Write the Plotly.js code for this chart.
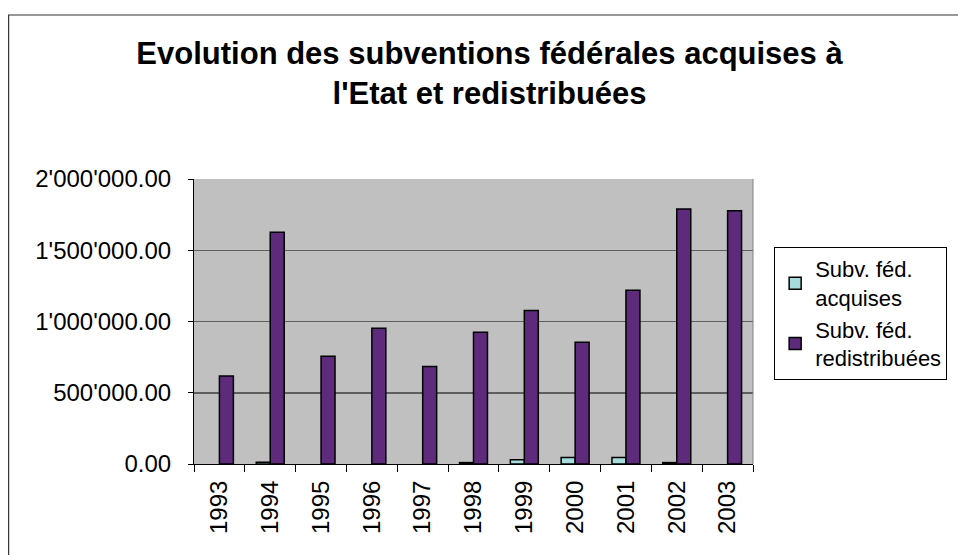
<!DOCTYPE html>
<html>
<head>
<meta charset="utf-8">
<script src="https://cdn.plot.ly/plotly-3.0.1.min.js"></script>
<style>html,body{margin:0;padding:0;background:#fff;}#chart{width:958px;height:555px;}</style>
</head>
<body>
<div id="chart"></div>
<script>
const years = ['1993','1994','1995','1996','1997','1998','1999','2000','2001','2002','2003'];
const acquises = [null, 12000, null, null, null, 10000, 30000, 45000, 45000, 10000, null];
const redistribuees = [617000, 1626000, 756000, 952000, 684000, 924000, 1078000, 855000, 1219000, 1789000, 1777000];
const seriesNames = ['Subv. féd.<br>acquises', 'Subv. féd.<br>redistribuées'];
const titleText = "Evolution des subventions fédérales acquises à<br>l'Etat et redistribuées";

const FONT = 'Arial, "Liberation Sans", sans-serif';

const traces = [
  {type:'bar', x:years, y:acquises, name:seriesNames[0],
   marker:{color:'#A6DCDC', line:{color:'#000', width:1.5}}},
  {type:'bar', x:years, y:redistribuees, name:seriesNames[1],
   marker:{color:'#5D2A7C', line:{color:'#000', width:1.5}}}
];

const layout = {
  width:958, height:555,
  margin:{l:194, r:204, t:179, b:91, pad:0},
  paper_bgcolor:'#fff', plot_bgcolor:'#C0C0C0',
  separators:".'",
  font:{family:FONT, color:'#000', size:24},
  title:{text:titleText, font:{family:FONT, size:31, color:'#000', weight:'bold'},
         x:0.511, xref:'container', xanchor:'center', y:0.885, yref:'container', yanchor:'middle'},
  barmode:'group', bargap:0.45, bargroupgap:0,
  showlegend:true,
  legend:{x:1.036, xanchor:'left', y:0.761, yanchor:'top', bgcolor:'#fff',
          bordercolor:'#000', borderwidth:1, font:{family:FONT, size:22, color:'#000'},
          itemwidth:30, tracegroupgap:0},
  xaxis:{type:'category', tickangle:-90, tickson:'boundaries', ticks:'outside', ticklen:7,
         tickcolor:'#000', tickwidth:1, showline:true, linecolor:'#000', linewidth:1,
         showgrid:false, tickfont:{family:FONT, size:24, color:'#000'}, ticklabelstandoff:6,
         fixedrange:true},
  yaxis:{range:[0,2000000], dtick:500000, tick0:0, tickformat:',.2f', ticks:'outside',
         ticklen:5, tickcolor:'#000', showline:true, linecolor:'#000', linewidth:1,
         showgrid:true, gridcolor:'#5f5f5f', gridwidth:1.5, zeroline:false,
         tickfont:{family:FONT, size:24, color:'#000'}, ticklabelstandoff:12, fixedrange:true},
  shapes:[
    {type:'line', xref:'paper', yref:'paper', x0:1, x1:1, y0:0, y1:1,
     line:{color:'#808080', width:1}},
    {type:'rect', xref:'paper', yref:'paper', x0:-0.3316, x1:1.37, y0:-0.34, y1:1.5754,
     line:{color:'#333', width:1.2}, fillcolor:'rgba(0,0,0,0)', layer:'above'}
  ]
};

Plotly.newPlot('chart', traces, layout, {displayModeBar:false, staticPlot:true});
</script>
</body>
</html>
